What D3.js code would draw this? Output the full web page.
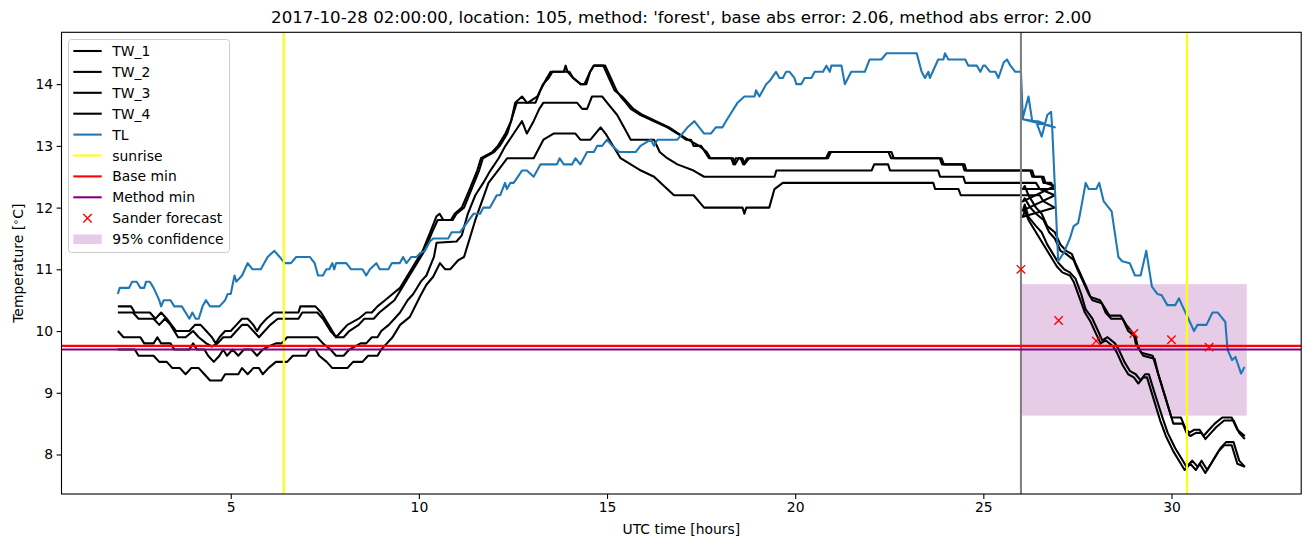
<!DOCTYPE html>
<html>
<head>
<meta charset="utf-8">
<script src="https://cdn.jsdelivr.net/npm/d3@7"></script>
<style>
  html, body { margin: 0; padding: 0; background: #fff; }
  svg { display: block; font-family: "DejaVu Sans", sans-serif; }
</style>
</head>
<body>
<svg id="chart" width="1311" height="547"></svg>
<script>
// ---------------- DATA ----------------
const titleText = "2017-10-28 02:00:00, location: 105, method: 'forest', base abs error: 2.06, method abs error: 2.00";
const xTicks = [5, 10, 15, 20, 25, 30];
const yTicks = [8, 9, 10, 11, 12, 13, 14];

const TW_1 = [[2.0,10.4],[2.35,10.4],[2.45,10.3],[2.85,10.3],[3.0,10.2],[3.15,10.3],[3.3,10.2],[3.55,10.0],[3.9,10.0],[4.05,10.1],[4.2,10.1],[4.35,10.0],[4.5,9.9],[4.6,9.8],[4.7,9.9],[4.85,10.0],[5.0,10.0],[5.15,10.1],[5.3,10.2],[5.45,10.2],[5.6,10.1],[5.7,10.0],[5.8,10.1],[5.95,10.2],[6.15,10.3],[6.8,10.3],[6.85,10.4],[7.25,10.4],[7.4,10.3],[7.6,10.1],[7.8,9.9],[7.95,10.0],[8.1,10.1],[8.4,10.2],[8.6,10.3],[8.75,10.3],[8.9,10.4],[9.1,10.5],[9.3,10.6],[9.5,10.7],[9.7,10.9],[9.9,11.1],[10.1,11.3],[10.3,11.6],[10.47,11.86],[10.55,11.9],[10.65,11.8],[10.85,11.8],[10.95,11.9],[11.14,12.0],[11.35,12.3],[11.55,12.6],[11.65,12.8],[11.95,12.9],[12.1,13.0],[12.3,13.2],[12.45,13.4],[12.56,13.7],[12.74,13.8],[12.87,13.7],[13.1,13.7],[13.23,13.9],[13.4,14.1],[13.5,14.2],[13.85,14.2],[13.9,14.3],[13.95,14.2],[14.1,14.1],[14.3,14.0],[14.45,14.0],[14.55,14.2],[14.65,14.3],[14.95,14.3],[15.1,14.1],[15.25,13.9],[15.36,13.8],[15.5,13.7],[15.63,13.6],[15.89,13.5],[16.25,13.4],[16.6,13.3],[16.87,13.2],[17.1,13.1],[17.23,13.1],[17.3,13.0],[17.5,13.0],[17.71,12.8],[18.3,12.8],[18.36,12.7],[18.42,12.8],[18.55,12.8],[18.62,12.7],[18.72,12.8],[20.87,12.8],[20.95,12.9],[22.56,12.9],[22.62,12.8],[23.89,12.8],[23.95,12.7],[24.5,12.7],[24.55,12.6],[26.0,12.6],
  [26.25,12.6],[26.3,12.5],[26.55,12.5],[26.6,12.4],[26.8,12.4],[26.9,12.3],
  [26.05,12.3],[26.1,12.35],[26.2,12.2],[26.4,12.0],[26.55,11.9],[26.7,11.7],[26.9,11.6],[27.05,11.4],[27.2,11.3],[27.35,11.25],[27.45,11.1],[27.6,10.9],[27.75,10.7],[27.85,10.55],[28.1,10.5],[28.2,10.4],[28.35,10.25],[28.65,10.25],[28.8,10.1],[29.0,9.95],[29.05,9.8],[29.2,9.65],[29.5,9.6],[29.6,9.4],[29.75,9.1],[29.9,8.8],[30.0,8.6],[30.25,8.6],[30.35,8.45],[30.47,8.35],[30.6,8.4],[30.75,8.4],[30.85,8.3],[31.0,8.4],[31.15,8.5],[31.35,8.6],[31.6,8.6],[31.75,8.4],[31.95,8.3]];

const TW_2 = [[2.0,10.3],[2.4,10.3],[2.55,10.2],[2.95,10.2],[3.1,10.1],[3.25,10.2],[3.4,10.1],[3.6,9.9],[3.8,9.9],[4.0,10.0],[4.15,9.9],[4.35,9.8],[4.5,9.75],[4.65,9.8],[4.8,9.9],[5.0,9.9],[5.15,10.0],[5.3,10.1],[5.45,10.1],[5.6,10.0],[5.75,9.9],[5.9,10.0],[6.05,10.1],[6.25,10.2],[6.8,10.2],[6.9,10.3],[7.3,10.3],[7.45,10.2],[7.65,10.0],[7.8,9.9],[8.0,9.9],[8.15,10.0],[8.4,10.1],[8.55,10.2],[8.8,10.2],[8.95,10.3],[9.15,10.4],[9.35,10.5],[9.55,10.7],[9.75,10.9],[9.95,11.1],[10.15,11.3],[10.35,11.6],[10.5,11.8],[10.9,11.8],[11.0,11.9],[11.2,12.0],[11.4,12.3],[11.6,12.6],[11.7,12.8],[12.0,12.9],[12.15,13.0],[12.35,13.2],[12.5,13.5],[12.6,13.7],[12.9,13.7],[13.15,13.8],[13.3,14.0],[13.45,14.1],[13.55,14.2],[14.0,14.2],[14.1,14.1],[14.3,14.0],[14.4,14.0],[14.55,14.2],[14.65,14.3],[14.9,14.3],[15.05,14.1],[15.2,13.9],[15.4,13.8],[15.55,13.7],[15.7,13.6],[15.95,13.5],[16.3,13.4],[16.65,13.3],[16.9,13.2],[17.15,13.1],[17.45,13.0],[17.65,12.9],[17.75,12.8],[18.35,12.8],[18.4,12.7],[18.5,12.8],[18.6,12.8],[18.65,12.7],[18.78,12.8],[20.82,12.8],[20.9,12.9],[22.48,12.9],[22.55,12.8],[23.84,12.8],[23.9,12.7],[24.45,12.7],[24.5,12.6],[26.0,12.6],
  [26.3,12.6],[26.35,12.5],[26.6,12.5],[26.65,12.4],[26.9,12.35],
  [26.05,12.1],[26.1,12.15],[26.25,12.0],[26.4,11.9],[26.6,11.8],[26.75,11.6],[26.9,11.5],[27.05,11.3],[27.2,11.25],[27.4,11.15],[27.5,11.0],[27.65,10.8],[27.8,10.6],[27.9,10.5],[28.15,10.45],[28.25,10.3],[28.4,10.2],[28.7,10.2],[28.85,10.0],[29.05,9.9],[29.1,9.75],[29.25,9.6],[29.55,9.55],[29.65,9.3],[29.8,9.0],[29.95,8.7],[30.05,8.5],[30.3,8.5],[30.4,8.35],[30.5,8.3],[30.65,8.35],[30.8,8.35],[30.9,8.25],[31.05,8.35],[31.2,8.45],[31.4,8.55],[31.65,8.55],[31.8,8.35],[31.95,8.25]];

const TW_3 = [[2.0,10.0],[2.15,9.9],[2.6,9.9],[2.7,9.8],[2.95,9.8],[3.05,9.9],[3.15,9.8],[3.4,9.8],[3.5,9.7],[3.9,9.7],[4.0,9.8],[4.1,9.7],[4.3,9.7],[4.4,9.6],[4.55,9.5],[4.7,9.6],[4.8,9.7],[4.9,9.6],[5.05,9.7],[5.2,9.6],[5.35,9.7],[5.55,9.7],[5.7,9.6],[5.85,9.7],[6.0,9.75],[6.2,9.8],[6.35,9.8],[6.5,9.9],[7.3,9.9],[7.45,9.8],[7.65,9.7],[7.8,9.6],[8.0,9.6],[8.15,9.7],[8.45,9.8],[8.6,9.8],[8.75,9.9],[8.9,9.9],[9.0,10.0],[9.2,10.1],[9.35,10.2],[9.5,10.3],[9.7,10.5],[9.85,10.6],[10.05,10.8],[10.2,10.9],[10.4,11.2],[10.47,11.43],[11.0,11.45],[11.14,11.55],[11.3,11.9],[11.5,12.2],[11.71,12.4],[11.9,12.6],[12.12,12.8],[12.3,13.0],[12.52,13.2],[12.74,13.4],[12.87,13.2],[13.05,13.4],[13.2,13.6],[13.31,13.7],[14.2,13.7],[14.34,13.6],[14.47,13.6],[14.6,13.8],[14.87,13.8],[15.0,13.7],[15.27,13.5],[15.45,13.3],[15.63,13.1],[15.89,13.1],[16.25,13.1],[16.4,12.9],[16.6,12.8],[16.87,12.7],[17.3,12.6],[17.58,12.5],[19.45,12.5],[19.5,12.6],[22.03,12.6],[22.1,12.7],[22.47,12.7],[22.52,12.6],[23.8,12.6],[23.85,12.5],[24.47,12.5],[24.52,12.4],[26.0,12.4],
  [26.4,12.4],[26.5,12.3],[26.9,12.2],
  [26.05,11.95],[26.1,12.05],[26.2,11.85],[26.4,11.7],[26.55,11.6],[26.7,11.4],[26.85,11.25],[27.0,11.1],[27.15,11.0],[27.3,10.95],[27.45,10.85],[27.6,10.6],[27.72,10.35],[27.9,10.2],[28.05,10.0],[28.16,9.85],[28.3,9.9],[28.5,9.8],[28.6,9.7],[28.75,9.5],[28.9,9.35],[29.05,9.3],[29.18,9.2],[29.3,9.3],[29.4,9.3],[29.55,9.0],[29.76,8.6],[29.9,8.35],[30.1,8.1],[30.25,7.95],[30.4,7.8],[30.55,7.9],[30.7,7.8],[30.8,7.9],[30.95,7.75],[31.1,7.9],[31.3,8.1],[31.45,8.2],[31.65,8.2],[31.8,7.9],[31.95,7.8]];

const TW_4 = [[2.0,9.7],[2.45,9.7],[2.55,9.6],[2.95,9.6],[3.1,9.5],[3.3,9.5],[3.45,9.4],[3.65,9.4],[3.8,9.3],[3.95,9.4],[4.15,9.4],[4.3,9.3],[4.45,9.2],[4.75,9.2],[4.85,9.3],[5.2,9.3],[5.3,9.4],[5.45,9.3],[5.6,9.4],[5.75,9.4],[5.85,9.3],[6.0,9.4],[6.2,9.5],[6.5,9.5],[6.65,9.6],[7.0,9.6],[7.1,9.7],[7.25,9.7],[7.35,9.6],[7.55,9.5],[7.7,9.4],[8.1,9.4],[8.25,9.5],[8.5,9.5],[8.65,9.6],[8.9,9.6],[9.0,9.7],[9.15,9.8],[9.3,9.9],[9.5,10.1],[9.76,10.23],[10.03,10.56],[10.2,10.75],[10.38,10.88],[10.56,11.1],[10.7,11.0],[10.83,11.0],[11.05,11.15],[11.2,11.2],[11.5,11.8],[11.85,12.4],[12.1,12.6],[12.35,12.8],[13.05,12.8],[13.31,13.1],[13.58,13.2],[14.16,13.2],[14.29,13.1],[14.56,13.1],[14.83,13.3],[14.96,13.2],[15.36,12.8],[15.63,12.7],[15.9,12.6],[16.25,12.5],[16.6,12.3],[16.78,12.2],[17.3,12.2],[17.58,12.0],[18.6,12.0],[18.65,11.9],[18.7,12.0],[19.31,12.0],[19.45,12.3],[19.67,12.4],[23.67,12.4],[23.72,12.3],[24.34,12.3],[24.4,12.2],[26.0,12.2],
  [26.5,12.2],[26.6,12.1],[26.9,12.0],
  [26.05,11.85],[26.1,11.95],[26.2,11.8],[26.35,11.65],[26.5,11.5],[26.65,11.35],[26.8,11.2],[26.95,11.05],[27.1,10.95],[27.3,10.9],[27.4,10.8],[27.55,10.55],[27.7,10.3],[27.85,10.15],[28.0,9.95],[28.12,9.8],[28.25,9.85],[28.45,9.75],[28.55,9.65],[28.7,9.45],[28.85,9.3],[29.0,9.25],[29.12,9.15],[29.25,9.25],[29.35,9.25],[29.5,8.95],[29.7,8.55],[29.85,8.3],[30.05,8.05],[30.2,7.9],[30.35,7.75],[30.5,7.85],[30.65,7.75],[30.75,7.85],[30.9,7.7],[31.05,7.85],[31.25,8.05],[31.4,8.15],[31.6,8.15],[31.75,7.85],[31.95,7.8]];

const TL = [[2.0,10.6],[2.05,10.7],[2.3,10.7],[2.38,10.8],[2.5,10.8],[2.6,10.7],[2.7,10.7],[2.75,10.8],[2.85,10.8],[2.95,10.7],[3.1,10.5],[3.15,10.4],[3.22,10.5],[3.4,10.5],[3.5,10.4],[3.7,10.4],[3.8,10.3],[3.9,10.2],[3.98,10.3],[4.07,10.2],[4.15,10.2],[4.25,10.4],[4.34,10.5],[4.45,10.4],[4.7,10.4],[4.85,10.5],[4.92,10.6],[5.0,10.6],[5.1,10.9],[5.15,10.8],[5.3,10.9],[5.45,11.1],[5.58,11.0],[5.8,11.0],[5.98,11.2],[6.16,11.3],[6.3,11.2],[6.43,11.1],[6.6,11.1],[6.74,11.2],[7.1,11.2],[7.23,11.1],[7.32,10.9],[7.45,10.9],[7.54,11.0],[7.62,11.0],[7.7,11.1],[7.75,11.0],[7.8,11.1],[8.07,11.1],[8.2,11.0],[8.5,11.0],[8.6,10.9],[8.7,11.0],[8.87,11.1],[8.96,11.0],[9.19,11.0],[9.28,11.1],[9.49,11.1],[9.58,11.2],[9.67,11.1],[9.8,11.2],[9.94,11.2],[10.03,11.26],[10.16,11.3],[10.29,11.45],[10.38,11.5],[10.78,11.5],[10.87,11.6],[11.09,11.6],[11.27,11.75],[11.45,11.9],[11.63,11.9],[11.71,12.0],[11.89,12.0],[12.07,12.2],[12.16,12.2],[12.29,12.4],[12.34,12.3],[12.43,12.4],[12.52,12.4],[12.74,12.6],[12.87,12.6],[13.05,12.5],[13.23,12.7],[13.67,12.7],[13.74,12.8],[13.85,12.7],[14.07,12.7],[14.16,12.8],[14.29,12.7],[14.47,12.9],[14.65,12.9],[14.74,13.0],[14.87,13.0],[15.0,13.1],[15.14,13.0],[15.32,12.9],[15.76,12.9],[15.89,13.0],[16.16,13.1],[16.25,13.0],[16.34,13.1],[16.87,13.1],[17.14,13.3],[17.32,13.4],[17.45,13.3],[17.58,13.2],[17.76,13.2],[17.89,13.3],[18.07,13.3],[18.16,13.4],[18.47,13.7],[18.65,13.8],[18.92,13.8],[18.96,13.9],[19.05,13.8],[19.23,14.0],[19.32,14.05],[19.49,14.2],[19.58,14.1],[19.67,14.1],[19.76,14.2],[19.85,14.2],[19.98,14.1],[20.03,14.0],[20.16,14.0],[20.25,14.1],[20.43,14.1],[20.52,14.2],[20.74,14.2],[20.83,14.3],[20.92,14.2],[20.96,14.3],[21.23,14.3],[21.32,14.0],[21.49,14.2],[21.85,14.2],[21.98,14.4],[22.29,14.4],[22.43,14.5],[23.23,14.5],[23.36,14.2],[23.45,14.1],[23.54,14.2],[23.58,14.1],[23.8,14.4],[23.94,14.4],[23.98,14.5],[24.07,14.4],[24.52,14.4],[24.6,14.3],[24.83,14.3],[24.92,14.2],[25.0,14.3],[25.05,14.3],[25.18,14.2],[25.32,14.2],[25.4,14.1],[25.54,14.35],[25.63,14.4],[25.72,14.3],[25.85,14.2],[26.0,14.2],
  [26.05,13.45],[26.2,13.8],[26.3,13.4],[26.45,13.4],[26.9,13.3],
  [26.05,13.43],[26.4,13.4],[26.55,13.15],[26.7,13.5],[26.8,13.55],[26.83,13.3],[26.99,11.13],[27.14,11.27],[27.3,11.5],[27.4,11.7],[27.52,11.75],[27.57,11.9],[27.72,12.4],[27.8,12.3],[28.0,12.3],[28.08,12.4],[28.2,12.1],[28.41,11.94],[28.59,11.2],[28.69,11.13],[28.89,11.1],[29.03,10.9],[29.18,10.9],[29.33,11.3],[29.48,10.72],[29.63,10.6],[29.74,10.58],[29.89,10.42],[30.1,10.42],[30.2,10.53],[30.28,10.42],[30.45,10.2],[30.6,10.0],[30.69,10.1],[30.93,10.1],[31.09,10.3],[31.23,10.3],[31.36,10.2],[31.43,10.15],[31.49,9.7],[31.61,9.53],[31.7,9.58],[31.85,9.31],[31.94,9.42]];

const sunriseTimes = [6.41, 30.41];
const nowTime = 26.0;
const baseMin = 9.76;
const methodMin = 9.70;
const sanderX = [26, 27, 28, 29, 30, 31];
const sanderY = [11.0, 10.17, 9.84, 9.96, 9.86, 9.74];
const confX = [26, 32];
const confY = [8.63, 10.76];

const legendLabels = ["TW_1","TW_2","TW_3","TW_4","TL","sunrise","Base min","Method min","Sander forecast","95% confidence"];

// ---------------- CHART ----------------
const svg = d3.select("#chart");
const W = 1311, H = 547;
const plot = {left: 61.5, right: 1301.2, top: 32.3, bottom: 494};

const seriesList = [TW_1, TW_2, TW_3, TW_4, TL];
const allX = seriesList.flat().map(d => d[0]);
const allY = seriesList.flat().map(d => d[1]);
const xe = d3.extent(allX), ye = d3.extent(allY);
const xp = (xe[1]-xe[0])*0.05, yp = (ye[1]-ye[0])*0.05;

const x = d3.scaleLinear().domain([xe[0]-xp, xe[1]+xp]).range([plot.left, plot.right]);
const y = d3.scaleLinear().domain([ye[0]-yp, ye[1]+yp]).range([plot.bottom, plot.top]);

svg.append("rect").attr("width", W).attr("height", H).attr("fill", "#fff");

const defs = svg.append("defs");
defs.append("clipPath").attr("id","clip").append("rect")
  .attr("x", plot.left).attr("y", plot.top)
  .attr("width", plot.right-plot.left).attr("height", plot.bottom-plot.top);

const g = svg.append("g").attr("clip-path","url(#clip)");

// confidence fill
g.append("rect")
  .attr("x", x(confX[0])).attr("width", x(confX[1]) - x(confX[0]))
  .attr("y", y(confY[1])).attr("height", y(confY[0]) - y(confY[1]))
  .attr("fill", "purple").attr("fill-opacity", 0.2);

const line = d3.line().x(d => x(d[0])).y(d => y(d[1]));
const LW = 2.08;

[TW_1, TW_2, TW_3, TW_4].forEach(s => {
  g.append("path").attr("d", line(s)).attr("fill","none")
    .attr("stroke","#000").attr("stroke-width", LW).attr("stroke-linejoin","round").attr("stroke-linecap","butt");
});
g.append("path").attr("d", line(TL)).attr("fill","none")
  .attr("stroke","#1f77b4").attr("stroke-width", LW).attr("stroke-linejoin","round");

// grey now line
g.append("line").attr("x1", x(nowTime)).attr("x2", x(nowTime))
  .attr("y1", plot.top).attr("y2", plot.bottom)
  .attr("stroke","#808080").attr("stroke-width", LW);

// sunrise
sunriseTimes.forEach(t => {
  g.append("line").attr("x1", x(t)).attr("x2", x(t))
    .attr("y1", plot.top).attr("y2", plot.bottom)
    .attr("stroke","#ffff00").attr("stroke-width", LW);
});

// base / method min
g.append("line").attr("x1", plot.left).attr("x2", plot.right)
  .attr("y1", y(baseMin)).attr("y2", y(baseMin))
  .attr("stroke","#ff0000").attr("stroke-width", LW);
g.append("line").attr("x1", plot.left).attr("x2", plot.right)
  .attr("y1", y(methodMin)).attr("y2", y(methodMin))
  .attr("stroke","#800080").attr("stroke-width", LW);

// sander markers
const ms = 4.2;
function xMark(sel, cx, cy) {
  sel.append("path")
    .attr("d", `M${cx-ms},${cy-ms}L${cx+ms},${cy+ms}M${cx-ms},${cy+ms}L${cx+ms},${cy-ms}`)
    .attr("stroke","#ff0000").attr("stroke-width", 1.4).attr("fill","none");
}
sanderX.forEach((t, i) => xMark(g, x(t), y(sanderY[i])));

// axes frame
const fontTick = 13.9;
const xAxis = d3.axisBottom(x).tickValues(xTicks).tickFormat(d3.format("d")).tickSize(4.9).tickPadding(3.5);
const yAxis = d3.axisLeft(y).tickValues(yTicks).tickFormat(d3.format("d")).tickSize(4.9).tickPadding(3.5);

const gx = svg.append("g").attr("transform", `translate(0,${plot.bottom})`).call(xAxis);
const gy = svg.append("g").attr("transform", `translate(${plot.left},0)`).call(yAxis);
[gx, gy].forEach(a => {
  a.select(".domain").remove();
  a.selectAll(".tick line").attr("stroke","#000").attr("stroke-width",1.1);
  a.selectAll(".tick text").attr("fill","#000").style("font-size", fontTick+"px").style("font-family","DejaVu Sans");
});

svg.append("rect")
  .attr("x", plot.left).attr("y", plot.top)
  .attr("width", plot.right-plot.left).attr("height", plot.bottom-plot.top)
  .attr("fill","none").attr("stroke","#000").attr("stroke-width",1.1);

// labels
svg.append("text").attr("x", (plot.left+plot.right)/2).attr("y", 534)
  .attr("text-anchor","middle").style("font-size", fontTick+"px").text("UTC time [hours]");

const yl = svg.append("text")
  .attr("transform", `translate(23,${(plot.top+plot.bottom)/2}) rotate(-90)`)
  .attr("text-anchor","middle").style("font-size", fontTick+"px");
yl.append("tspan").text("Temperature [");
yl.append("tspan").attr("baseline-shift","40%").style("font-size","10px").text("\u2218");
yl.append("tspan").text("C]");

svg.append("text").attr("x", (plot.left+plot.right)/2).attr("y", 23)
  .attr("text-anchor","middle").style("font-size","16.67px").text(titleText);

// legend
const lg = svg.append("g");
lg.append("rect").attr("x", 68.5).attr("y", 39.5).attr("width", 161).attr("height", 213)
  .attr("rx", 3).attr("fill","#fff").attr("fill-opacity",0.8)
  .attr("stroke","#cccccc").attr("stroke-width",1);
const legColors = ["#000","#000","#000","#000","#1f77b4","#ffff00","#ff0000","#800080"];
legendLabels.forEach((lab, i) => {
  const cy = 51 + i*20.9;
  if (i < 8) {
    lg.append("line").attr("x1", 73.3).attr("x2", 101.7).attr("y1", cy).attr("y2", cy)
      .attr("stroke", legColors[i]).attr("stroke-width", LW);
  } else if (i === 8) {
    xMark(lg, 87.5, cy);
  } else {
    lg.append("rect").attr("x", 73.3).attr("y", cy-4.6).attr("width", 28.4).attr("height", 9.5)
      .attr("fill","purple").attr("fill-opacity",0.2);
  }
  lg.append("text").attr("x", 112.3).attr("y", cy + 5).style("font-size", fontTick+"px").text(lab);
});
</script>
</body>
</html>
